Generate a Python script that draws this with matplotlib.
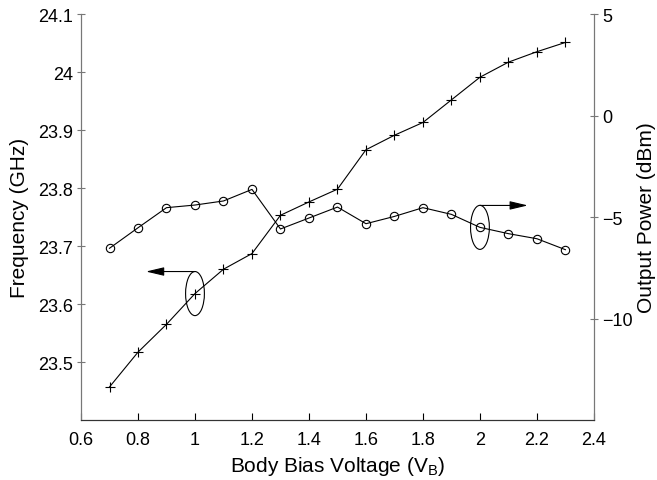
import matplotlib
matplotlib.use("Agg")
import matplotlib.pyplot as plt
from matplotlib.patches import Ellipse

plt.rcParams['font.family'] = ['Liberation Sans', 'DejaVu Sans']

# body bias voltage (V)
vb = [0.7, 0.8, 0.9, 1.0, 1.1, 1.2, 1.3, 1.4, 1.5, 1.6, 1.7, 1.8,
      1.9, 2.0, 2.1, 2.2, 2.3]
# oscillation frequency (GHz)
freq = [23.457, 23.517, 23.565, 23.618, 23.660, 23.687, 23.753, 23.776,
        23.798, 23.866, 23.891, 23.913, 23.952, 23.991, 24.017, 24.035,
        24.051]
# output power (dBm)
power = [-6.54, -5.53, -4.54, -4.41, -4.21, -3.64, -5.59, -5.05, -4.51,
         -5.33, -4.97, -4.54, -4.87, -5.51, -5.82, -6.07, -6.61]

xticks = [0.6, 0.8, 1, 1.2, 1.4, 1.6, 1.8, 2, 2.2, 2.4]
xticklabels = ['0.6', '0.8', '1', '1.2', '1.4', '1.6', '1.8', '2', '2.2', '2.4']
fticks = [23.5, 23.6, 23.7, 23.8, 23.9, 24.0, 24.1]
fticklabels = ['23.5', '23.6', '23.7', '23.8', '23.9', '24', '24.1']
pticks = [-10, -5, 0, 5]
pticklabels = ['\u221210', '\u22125', '0', '5']

fig = plt.figure(figsize=(6.57, 4.81), dpi=100)
ax1 = fig.add_axes([0.1233, 0.1247, 0.7807, 0.8441])
ax2 = ax1.twinx()

ax1.plot(vb, freq, color='black', lw=0.8, marker='+', ms=7, mew=0.8)
ax2.plot(vb, power, color='black', lw=0.8, marker='o', ms=6, mew=0.8,
         mfc='none')

ax1.set_xlim(0.6, 2.4)
ax1.set_ylim(23.4, 24.1)
ax2.set_ylim(-15, 5)
ax1.set_xticks(xticks)
ax1.set_xticklabels(xticklabels)
ax1.set_yticks(fticks)
ax1.set_yticklabels(fticklabels)
ax2.set_yticks(pticks)
ax2.set_yticklabels(pticklabels)

fs = 13
lfs = 15
ax1.set_xlabel('Body Bias Voltage (V$_\\mathregular{B}$)', fontsize=lfs,
               labelpad=4)
ax1.set_ylabel('Frequency (GHz)', fontsize=lfs, labelpad=6)
ax2.set_ylabel('Output Power (dBm)', fontsize=lfs, labelpad=3)

for ax in (ax1, ax2):
    ax.tick_params(labelsize=fs, width=0.8)
    ax.spines['top'].set_visible(False)
    ax.spines['left'].set_color('#777777')
    ax.spines['right'].set_color('#777777')
    ax.spines['bottom'].set_color('#333333')
ax1.tick_params(axis='x', direction='in', length=5, pad=8)
ax1.tick_params(axis='y', direction='inout', length=6, color='#777777', pad=3)
ax2.tick_params(axis='y', direction='inout', length=6, color='#777777', pad=3)

arrow_style = '-|>,head_length=1.1,head_width=0.26'

# left annotation: ellipse around freq point at 1.0, arrow pointing left
e1 = Ellipse((1.0, 23.618), 0.066, 0.076, fill=False, color='black', lw=0.8)
ax1.add_patch(e1)
ax1.annotate('', xy=(0.828, 23.656), xytext=(1.0, 23.656),
             arrowprops=dict(arrowstyle=arrow_style, color='black', lw=0.8,
                             shrinkA=0, shrinkB=0))

# right annotation: ellipse around power point at 2.0, arrow pointing right
e2 = Ellipse((2.0, -5.51), 0.066, 2.17, fill=False, color='black', lw=0.8)
ax2.add_patch(e2)
ax2.annotate('', xy=(2.168, -4.43), xytext=(2.0, -4.43),
             arrowprops=dict(arrowstyle=arrow_style, color='black', lw=0.8,
                             shrinkA=0, shrinkB=0))

fig.savefig('out.png', dpi=100)
